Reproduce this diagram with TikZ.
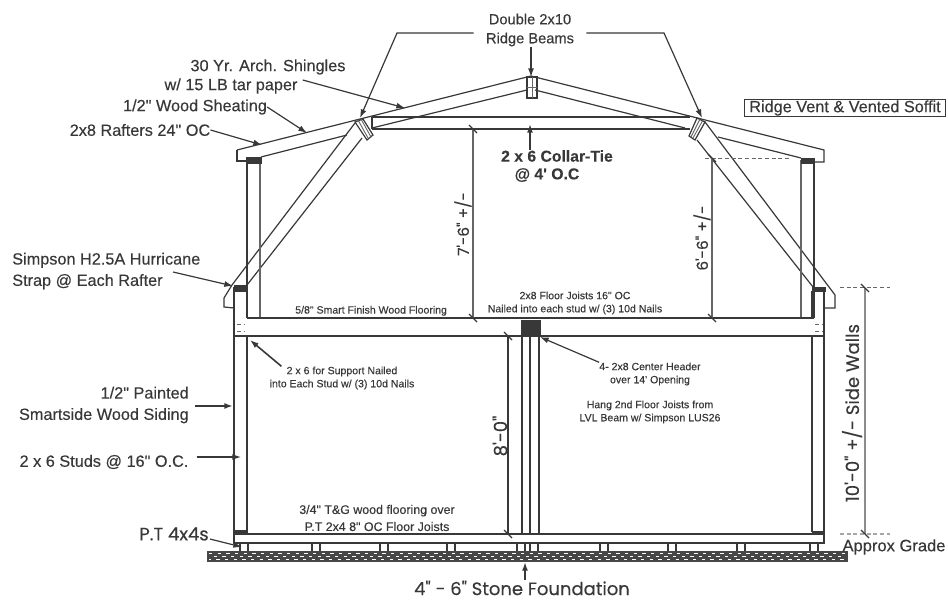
\documentclass[tikz,border=0pt]{standalone}
\usepackage{fontspec}
\newfontfamily\labelfont[FakeBold=0.3]{Liberation Sans}
\newfontfamily\handfont[FakeBold=0.3]{Poppins}
\usepackage{xcolor}
\usetikzlibrary{arrows.meta}
\definecolor{inkgrey}{gray}{0.22}

\tikzset{
    ink/.style={inkgrey},
    framing/.style={ink, line width=1.5pt},
    timber/.style={ink, line width=0.9pt},
    faint/.style={black!60, line width=0.7pt},
    leader/.style={ink, line width=0.9pt, -{Latex[length=6.5pt, width=4.5pt]}},
    biglabel/.style={ink, font=\labelfont\fontsize{12.2}{14}\selectfont, inner sep=0pt},
    ridgelabel/.style={ink, font=\labelfont\fontsize{11}{14.2}\selectfont, inner sep=0pt, align=center},
    midlabel/.style={ink, font=\labelfont\fontsize{9.3}{12.8}\selectfont, inner sep=0pt, align=center},
    tinylabel/.style={ink, font=\labelfont\fontsize{7.9}{9.8}\selectfont, inner sep=0pt, align=center},
    handlabel/.style={ink, font=\handfont\fontsize{13.5}{15}\selectfont, inner sep=0pt},
    dimlabel/.style={ink, font=\handfont\fontsize{11.5}{13}\selectfont, inner sep=0pt},
}

\begin{document}
\begin{tikzpicture}[x=0.75pt, y=-0.75pt]
    \useasboundingbox (0, 0) rectangle (948, 602);

    \draw[timber] (237, 150) -- (531, 76) -- (824, 150) -- (824, 162) -- (814, 162);
    \draw[timber] (237, 150) -- (237, 161) -- (246, 161);
    \draw[timber] (261, 157) -- (347, 135);
    \draw[timber] (372, 128) -- (527, 90);
    \draw[timber] (535, 90) -- (685, 128);
    \draw[timber] (718, 137) -- (801, 158);

    \draw[timber] (372, 117) -- (690, 117);
    \draw[timber] (372, 129) -- (690, 129);
    \draw[timber] (372, 117) -- (372, 129);

    \draw[timber] (527, 77) rectangle (537, 98);
    \draw[faint] (532, 77) -- (532, 98);
    \draw[faint] (527, 87) -- (537, 87);

    \draw[timber] (355, 122) -- (363, 119) -- (373, 135) -- (367, 140) -- cycle;
    \draw[faint] (358, 120) -- (368, 138);
    \draw[faint] (361, 119) -- (371, 137);
    \draw[timber] (697, 118) -- (705, 122) -- (695, 140) -- (689, 136) -- cycle;
    \draw[faint] (700, 119) -- (691, 137);
    \draw[faint] (703, 120) -- (693, 138);

    \draw[timber] (355, 123) -- (232, 285) -- (224, 298) -- (224, 307) -- (234, 308);
    \draw[timber] (362, 138) -- (247, 285);
    \draw[timber] (705, 122) -- (835, 295) -- (835, 308) -- (825, 308);
    \draw[timber] (697, 140) -- (813, 287);

    \draw[framing] (247, 160) -- (247, 318);
    \draw[faint, line width=1pt] (260, 160) -- (260, 318);
    \draw[faint, line width=1pt] (801, 160) -- (801, 318);
    \draw[framing] (814, 160) -- (814, 318);
    \filldraw[ink] (246, 157) rectangle (261, 163);
    \filldraw[ink] (801, 158) rectangle (814, 163);
    \filldraw[ink] (234, 285) rectangle (247, 291);
    \filldraw[ink] (812, 287) rectangle (825, 291);

    \draw[framing] (234, 287) -- (234, 543) -- (824, 543) -- (824, 287);
    \draw[framing] (247, 336) -- (247, 532);
    \draw[framing] (812, 336) -- (812, 532);
    \draw[timber] (812, 291) -- (812, 318);

    \draw[framing, line width=2pt] (247, 318) -- (814, 318);
    \draw[framing] (234, 336) -- (824, 336);
    \draw[framing] (234, 534) -- (824, 534);
    \filldraw[ink] (234, 530) rectangle (247, 534);
    \filldraw[ink] (812, 531) rectangle (824, 534);

    \draw[faint, densely dashed] (237, 324) -- (245, 324);
    \draw[faint, densely dashed] (237, 331) -- (245, 331);
    \draw[faint, densely dashed] (815, 324) -- (823, 324);
    \draw[faint, densely dashed] (815, 331) -- (823, 331);

    \filldraw[ink] (521, 320) rectangle (540, 336);
    \draw[timber] (508, 336) -- (508, 534);
    \draw[framing] (522, 336) -- (522, 534);
    \draw[framing] (530, 336) -- (530, 534);
    \draw[framing] (539, 336) -- (539, 534);

    \foreach \pierx in {240, 312, 380, 447, 517, 530, 600, 668, 737, 810} {
        \draw[timber] (\pierx, 543) -- (\pierx, 551);
        \draw[timber] (\pierx + 8, 543) -- (\pierx + 8, 551);
    }

    \fill[black!72] (207, 551) rectangle (848, 562);
    \foreach \hatchy/\hatchoff in {553.5/0, 556.5/3, 559.5/1} {
        \draw[white, line width=0.9pt, dash pattern=on 2.5pt off 4pt, dash phase=\hatchoff pt] (209, \hatchy) -- (846, \hatchy);
    }

    \draw[faint, line width=1pt] (473, 129) -- (473, 318);
    \draw[faint, line width=1pt] (712, 158) -- (712, 318);
    \draw[faint, densely dashed] (705, 158) -- (790, 158);
    \draw[faint, densely dashed] (840, 287) -- (890, 287);
    \draw[black!35, densely dashed, line width=0.8pt] (840, 534) -- (890, 534);
    \draw[black!45, line width=1.4pt] (865, 288) -- (865, 534);
    \foreach \tickx/\ticky in {473/129, 473/318, 712/158, 712/318, 508/336, 508/534, 865/288, 865/534} {
        \draw[ink, line width=0.9pt] (\tickx - 4, \ticky - 4) -- (\tickx + 4, \ticky + 4);
    }

    \node[ridgelabel] (beams) at (530, 30) {Double 2x10\\Ridge Beams};
    \node[biglabel] (shingles) at (268, 67) {30 Yr. Arch. Shingles};
    \node[biglabel] (tarpaper) at (231, 86) {w/ 15 LB tar paper};
    \node[biglabel] (sheathing) at (195, 107) {1/2" Wood Sheating};
    \node[biglabel] (rafters) at (140, 130) {2x8 Rafters 24" OC};
    \node[biglabel, align=left, anchor=west] (strap) at (12, 271) {Simpson H2.5A Hurricane\\[2pt]Strap @ Each Rafter};
    \node[biglabel, align=right, anchor=east] (siding) at (189, 405) {1/2" Painted\\[2pt]Smartside Wood Siding};
    \node[biglabel] (studs) at (104, 462) {2 x 6 Studs @ 16" O.C.};
    \node[handlabel] (posts) at (174, 534) {P.T 4x4s};
    \node[biglabel, font=\labelfont\fontsize{11.8}{14}\selectfont\bfseries] (collartie) at (557, 156) {2 x 6 Collar-Tie};
    \node[biglabel, font=\labelfont\fontsize{11.8}{14}\selectfont\bfseries] (collarspacing) at (547, 175) {@ 4' O.C};
    \node[draw=inkgrey, line width=1pt, biglabel, minimum width=151pt, minimum height=13pt] (vent) at (845, 108) {Ridge Vent \& Vented Soffit};

    \node[tinylabel, anchor=south west] (flooring) at (295, 316) {5/8" Smart Finish Wood Flooring};
    \node[tinylabel] (joists) at (575, 303) {2x8 Floor Joists 16" OC\\Nailed into each stud w/ (3) 10d Nails};
    \node[tinylabel] (support) at (342, 378) {2 x 6 for Support Nailed\\into Each Stud w/ (3) 10d Nails};
    \node[tinylabel] (header) at (650, 374) {4- 2x8 Center Header\\over 14' Opening};
    \node[tinylabel] (hang) at (650, 412) {Hang 2nd Floor Joists from\\LVL Beam w/ Simpson LUS26};
    \node[midlabel] (firstfloor) at (377, 518) {3/4" T\&G wood flooring over\\P.T 2x4 8" OC Floor Joists};
    \node[biglabel, font=\labelfont\fontsize{12.4}{14}\selectfont] (grade) at (894, 547) {Approx Grade};
    \node[handlabel] (stone) at (522, 588) {4" - 6" Stone Foundation};

    \node[dimlabel, rotate=90] (upperheight) at (463, 224) {7'-6" +/-};
    \node[dimlabel, rotate=90] (kneeheight) at (702, 238) {6'-6" +/-};
    \node[handlabel, rotate=90] (lowerheight) at (500, 436) {8'-0"};
    \node[handlabel, rotate=90] (sidewalls) at (852, 413) {10'-0" +/- Side Walls};

    \coordinate (leftbeam) at (360, 118);
    \coordinate (leftbend) at (397, 33);
    \coordinate (rightbeam) at (702, 118);
    \coordinate (rightbend) at (664, 33);
    \coordinate (ridgetop) at (531, 77);
    \coordinate (shingletop) at (405, 108);
    \coordinate (sheathingtop) at (307, 133);
    \coordinate (raftertop) at (262, 145);
    \coordinate (strapstart) at (173, 272);
    \coordinate (strapend) at (233, 286);
    \coordinate (sidingend) at (233, 406);
    \coordinate (studend) at (241, 457);
    \coordinate (postend) at (242, 547);
    \coordinate (supportend) at (250, 340);
    \coordinate (headerend) at (540, 337);
    \coordinate (collarend) at (530, 124);
    \coordinate (stoneend) at (525, 562);

    \draw[leader] (beams.west) ++(-12, 3) -- (leftbend) -- (leftbeam);
    \draw[leader] (beams.east) ++(12, 3) -- (rightbend) -- (rightbeam);
    \draw[leader] (beams.south -| ridgetop) -- (ridgetop);
    \draw[leader] (tarpaper.east) ++(5, -6) -- (shingletop);
    \draw[leader] (sheathing.east) -- (sheathingtop);
    \draw[leader] (rafters.east) -- (raftertop);
    \draw[leader] (strapstart) -- (strapend);
    \draw[leader, line width=1.3pt] (siding.east) ++(6, 1) -- (sidingend);
    \draw[leader] (studs.east) ++(8, -5) -- (studend);
    \draw[leader] (posts.east) ++(1, 5) -- (postend);
    \draw[leader, line width=1.2pt] (support.north west) ++(12, 0) -- (supportend);
    \draw[leader] (header.north west) -- (headerend);
    \draw[leader, line width=1.2pt] (collartie.north -| collarend) -- (collarend);
    \draw[leader, line width=1.2pt] (stone.north -| stoneend) -- (stoneend);
\end{tikzpicture}
\end{document}
